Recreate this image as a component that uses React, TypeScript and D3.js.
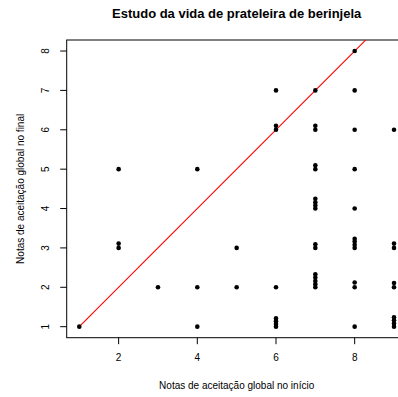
import React from "react";
import * as d3 from "d3";

const title = "Estudo da vida de prateleira de berinjela";
const xLabel = "Notas de aceitação global no início";
const yLabel = "Notas de aceitação global no final";

const xTicks = [2, 4, 6, 8];
const yTicks = [1, 2, 3, 4, 5, 6, 7, 8];

// x (início) and y (final, slightly stacked) values
const inicio = [
  1,
  2, 2, 2,
  3,
  4, 4, 4,
  5, 5,
  6, 6, 6, 6, 6, 6, 6, 6,
  7, 7, 7, 7, 7, 7, 7, 7, 7, 7, 7, 7, 7, 7, 7, 7,
  8, 8, 8, 8, 8, 8, 8, 8, 8, 8, 8, 8,
  9, 9, 9, 9, 9, 9, 9, 9, 9,
];
const final = [
  1,
  5, 3, 3.11,
  2,
  5, 2, 1,
  3, 2,
  7, 6, 6.1, 2, 1, 1.07, 1.14, 1.21,
  7, 6, 6.1, 5, 5.1, 4, 4.08, 4.16, 4.25, 3, 3.09, 2, 2.08, 2.16, 2.25, 2.33,
  8, 7, 6, 5, 4, 3, 3.08, 3.16, 3.23, 2, 2.12, 1,
  6, 3, 3.11, 2, 2.11, 1, 1.08, 1.16, 1.24,
];
const refLine = [1, 9];

const W = 398;
const H = 397;
const left = 66.7;
const right = 406.6;
const top = 40;
const bottom = 337.7;

export default function App() {
  const x = d3.scaleLinear().domain([0.68, 9.32]).range([left, right]);
  const y = d3.scaleLinear().domain([0.72, 8.28]).range([bottom, top]);
  const font = "'Liberation Sans', Arial, Helvetica, sans-serif";
  const cx = (left + right) / 2;
  const cy = (top + bottom) / 2;
  const line = d3
    .line<number>()
    .x((d) => x(d))
    .y((d) => y(d));

  return (
    <svg
      width={W}
      height={H}
      style={{ position: "absolute", left: 0, top: 0, background: "#fff" }}
      fontFamily={font}
    >
      <defs>
        <clipPath id="plotclip">
          <rect x={left} y={top} width={right - left} height={bottom - top} />
        </clipPath>
      </defs>
      <rect x={0} y={0} width={W} height={H} fill="#fff" />
      <text x={cx} y={17.5} textAnchor="middle" fontSize={13} fontWeight="bold">
        {title}
      </text>
      {/* box */}
      <rect
        x={left}
        y={top}
        width={right - left}
        height={bottom - top}
        fill="none"
        stroke="#000"
        strokeWidth={1}
      />
      {/* x axis ticks */}
      {xTicks.map((t) => (
        <g key={"x" + t}>
          <line x1={x(t)} x2={x(t)} y1={bottom} y2={bottom + 6.5} stroke="#000" />
          <text x={x(t)} y={361} textAnchor="middle" fontSize={10}>
            {t}
          </text>
        </g>
      ))}
      {/* y axis ticks */}
      {yTicks.map((t) => (
        <g key={"y" + t}>
          <line x1={left - 6.5} x2={left} y1={y(t)} y2={y(t)} stroke="#000" />
          <text
            transform={`translate(${48.5},${y(t)}) rotate(-90)`}
            textAnchor="middle"
            fontSize={10}
          >
            {t}
          </text>
        </g>
      ))}
      <text x={cx} y={389} textAnchor="middle" fontSize={10}>
        {xLabel}
      </text>
      <text
        transform={`translate(${24},${cy}) rotate(-90)`}
        textAnchor="middle"
        fontSize={10}
      >
        {yLabel}
      </text>
      <g clipPath="url(#plotclip)">
        <path d={line(refLine) || ""} stroke="#ff0000" strokeWidth={1.1} fill="none" />
      </g>
      {inicio.map((v, i) => (
        <circle key={i} cx={x(v)} cy={y(final[i])} r={2.3} fill="#000" />
      ))}
    </svg>
  );
}
